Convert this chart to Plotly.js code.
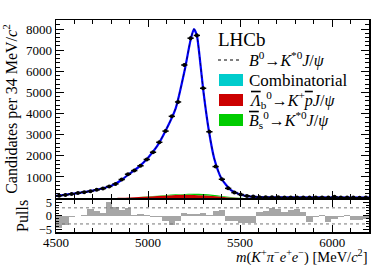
<!DOCTYPE html>
<html>
<head>
<meta charset="utf-8">
<script src="https://cdn.plot.ly/plotly-3.0.1.min.js"></script>
<style>html,body{margin:0;padding:0;background:#fff;}#chart{width:390px;height:265px;}</style>
</head>
<body>
<div id="chart"></div>
<script>
// ---- data ----
const massBins = [4517,4551,4585,4619,4653,4687,4721,4755,4789,4823,
                  4857,4891,4925,4959,4993,5027,5061,5095,5129,5163,
                  5197,5231,5265,5299,5333,5367,5401,5435,5469,5503,
                  5537,5571,5605,5639,5673,5707,5741,5775,5809,5843,
                  5877,5911,5945,5979,6013,6047,6081,6115,6149,6183];
const candidates = [110,150,195,240,280,320,390,450,550,670,
                    880,1130,1300,1530,1830,2170,2640,3170,3870,4550,
                    6300,7570,7700,5200,3140,1490,890,460,260,170,
                    100,70,45,40,35,38,30,32,28,30,
                    25,27,30,22,60,28,22,25,20,24];
const pulls = [-4.5,-3.5,-0.4,0.1,0.4,2.5,1.9,1.2,5.2,3.4,
               2.1,3.1,0.4,0.6,0.4,-0.3,-0.6,-1.9,-3.5,-1.9,
               1.0,0.7,0.6,1.2,0.4,1.9,2.2,-1.9,-1.9,-2.7,
               -2.5,-2.5,1.5,1.9,3.1,2.5,1.5,2.2,2.7,1.5,
               -2.2,-0.6,0.2,-2.2,-1.0,-0.6,0.2,-1.5,-1.5,-1.0];
const fitMass = [4500,4600,4700,4800,4850,4900,4950,5000,5050,5100,5150,5200,5230,5249,5265,5280,5300,5330,5360,5400,5450,5500,5550,5600,5700,6200];
const fitTotal = [100,210,350,580,820,1160,1480,1910,2470,3270,4250,6100,7450,8000,7700,6700,5100,3200,1850,900,380,170,80,50,35,25];
const bkgMass = [4500,4800,4850,4900,4950,5000,5050,5100,5150,5200,5250,5300,5350,5400,5450,5500,5550,6200];
const combinatorial = [4,4,4,4,4,4,4,4,4,4,4,4,4,4,4,4,4,4];
const lambdaB = [0,0,10,25,45,70,95,120,140,150,145,125,95,60,25,5,0,0];
const bsK = [0,0,0,2,5,10,15,25,35,45,55,60,55,40,25,10,0,0];
const binHalfWidth = 17;
const xTicks = [4500,5000,5500,6000];
const yTicks = [1000,2000,3000,4000,5000,6000,7000,8000];
const pullTicks = [-5,0,5];

const errY = candidates.map(v => Math.sqrt(v));
const SERIF = 'Liberation Serif, Times New Roman, serif';
const OL = s => '<span style="text-decoration:overline">' + s + '</span>';

const traces = [
  {x: bkgMass, y: combinatorial, type:'scatter', mode:'lines', stackgroup:'bkg',
   line:{width:0, color:'#00cccc'}, fillcolor:'#00cccc', xaxis:'x', yaxis:'y', hoverinfo:'skip'},
  {x: bkgMass, y: lambdaB, type:'scatter', mode:'lines', stackgroup:'bkg',
   line:{width:0, color:'#cc0000', shape:'spline'}, fillcolor:'#cc0000', xaxis:'x', yaxis:'y'},
  {x: bkgMass, y: bsK, type:'scatter', mode:'lines', stackgroup:'bkg',
   line:{width:0, color:'#00cc00', shape:'spline'}, fillcolor:'#00cc00', xaxis:'x', yaxis:'y'},
  {x: fitMass, y: fitTotal, type:'scatter', mode:'lines',
   line:{color:'#0000ff', width:2.2, shape:'spline', smoothing:0.6}, xaxis:'x', yaxis:'y'},
  {x: fitMass, y: fitTotal, type:'scatter', mode:'lines',
   line:{color:'#000000', width:1, dash:'dot', shape:'spline', smoothing:0.6}, xaxis:'x', yaxis:'y', opacity:0.6},
  {x: massBins, y: candidates, type:'scatter', mode:'markers',
   marker:{color:'#000', size:4},
   error_x:{type:'constant', value:binHalfWidth, width:0, thickness:1.5, color:'#000'},
   error_y:{type:'data', array:errY, width:0, thickness:1.5, color:'#000'},
   xaxis:'x', yaxis:'y'},
  {x: massBins, y: pulls, type:'bar', width:34,
   marker:{color:'#a6a6a6', line:{width:0}}, xaxis:'x2', yaxis:'y2'}
];

const px = p => (p - 56) / 313;
const py = p => (232 - p) / 212;

const axisCommon = {
  showline:true, linecolor:'#000', linewidth:1.5, mirror:'ticks',
  ticks:'inside', tickcolor:'#000', tickwidth:1, showgrid:false, zeroline:false,
  tickfont:{family:SERIF, size:13, color:'#000'}
};

const layout = {
  width:390, height:265,
  margin:{l:56, r:21, t:20, b:33},
  paper_bgcolor:'#fff', plot_bgcolor:'#fff',
  showlegend:false, bargap:0,
  xaxis: Object.assign({}, axisCommon, {
    domain:[0,1], range:[4500,6200], anchor:'y', showticklabels:false,
    tickvals:xTicks, ticklen:7, minor:{dtick:100, tick0:4500, ticklen:4, ticks:'inside', tickcolor:'#000'}
  }),
  yaxis: Object.assign({}, axisCommon, {
    domain:[0.16,1], range:[0,8430], anchor:'x',
    tickvals:yTicks, ticklen:8, minor:{dtick:200, ticklen:4, ticks:'inside', tickcolor:'#000'},
    title:{text:'Candidates per 34 MeV/<i>c</i><sup>2</sup>', font:{family:SERIF, size:16, color:'#000'}, standoff:6}
  }),
  xaxis2: Object.assign({}, axisCommon, {
    domain:[0,1], range:[4500,6200], anchor:'y2', ticklabelstandoff:-2,
    tickvals:xTicks, ticklen:7, minor:{dtick:100, tick0:4500, ticklen:4, ticks:'inside', tickcolor:'#000'}
  }),
  yaxis2: Object.assign({}, axisCommon, {
    domain:[0,0.152], range:[-6,6], anchor:'x2',
    tickfont:{family:SERIF, size:12.5, color:'#000'},
    tickvals:pullTicks, ticklen:6, minor:{dtick:1, ticklen:3, ticks:'inside', tickcolor:'#000'},
    title:{text:'Pulls', font:{family:SERIF, size:16, color:'#000'}, standoff:6}
  }),
  shapes:[
    {type:'line', xref:'x2', yref:'y2', x0:4500, x1:6200, y0:3, y1:3, line:{color:'#777', width:1, dash:'dot'}},
    {type:'line', xref:'x2', yref:'y2', x0:4500, x1:6200, y0:-3, y1:-3, line:{color:'#777', width:1, dash:'dot'}},
    {type:'line', xref:'paper', yref:'paper', x0:px(218), x1:px(241), y0:py(60), y1:py(60), line:{color:'#000', width:1.2, dash:'dot'}},
    {type:'rect', xref:'paper', yref:'paper', x0:px(219), x1:px(243), y0:py(86), y1:py(74), fillcolor:'#00cccc', line:{width:0}},
    {type:'rect', xref:'paper', yref:'paper', x0:px(219), x1:px(243), y0:py(106), y1:py(94), fillcolor:'#cc0000', line:{width:0}},
    {type:'rect', xref:'paper', yref:'paper', x0:px(219), x1:px(243), y0:py(126), y1:py(114), fillcolor:'#00cc00', line:{width:0}}
  ],
  annotations:[
    {xref:'paper', yref:'paper', x:px(216), y:py(39), xanchor:'left', yanchor:'middle', showarrow:false,
     text:'LHCb', font:{family:SERIF, size:19, color:'#000'}},
    {xref:'paper', yref:'paper', x:px(247), y:py(59), xanchor:'left', yanchor:'middle', showarrow:false,
     text:'<i>B</i><sup>0</sup>→<i>K</i><sup>*0</sup><i>J</i>/<i>ψ</i>', font:{family:SERIF, size:16, color:'#000'}},
    {xref:'paper', yref:'paper', x:px(247), y:py(80), xanchor:'left', yanchor:'middle', showarrow:false,
     text:'Combinatorial', font:{family:SERIF, size:17, color:'#000'}},
    {xref:'paper', yref:'paper', x:px(247), y:py(100), xanchor:'left', yanchor:'middle', showarrow:false,
     text:'<i>' + OL('Λ') + '</i><sub>b</sub><sup>0</sup>→<i>K</i><sup>+</sup><i>' + OL('p') + '</i><i>J</i>/<i>ψ</i>', font:{family:SERIF, size:16, color:'#000'}},
    {xref:'paper', yref:'paper', x:px(247), y:py(120), xanchor:'left', yanchor:'middle', showarrow:false,
     text:'<i>' + OL('B') + '</i><sub>s</sub><sup>0</sup>→<i>K</i><sup>*0</sup><i>J</i>/<i>ψ</i>', font:{family:SERIF, size:16, color:'#000'}},
    {xref:'paper', yref:'paper', x:1, y:py(256.5), xanchor:'right', yanchor:'middle', showarrow:false,
     text:'<i>m</i>(<i>K</i><sup>+</sup><i>π</i><sup>−</sup><i>e</i><sup>+</sup><i>e</i><sup>−</sup>) [MeV/<i>c</i><sup>2</sup>]',
     font:{family:SERIF, size:14.5, color:'#000'}}
  ]
};

Plotly.newPlot('chart', traces, layout, {staticPlot:true, displayModeBar:false});
</script>
</body>
</html>
